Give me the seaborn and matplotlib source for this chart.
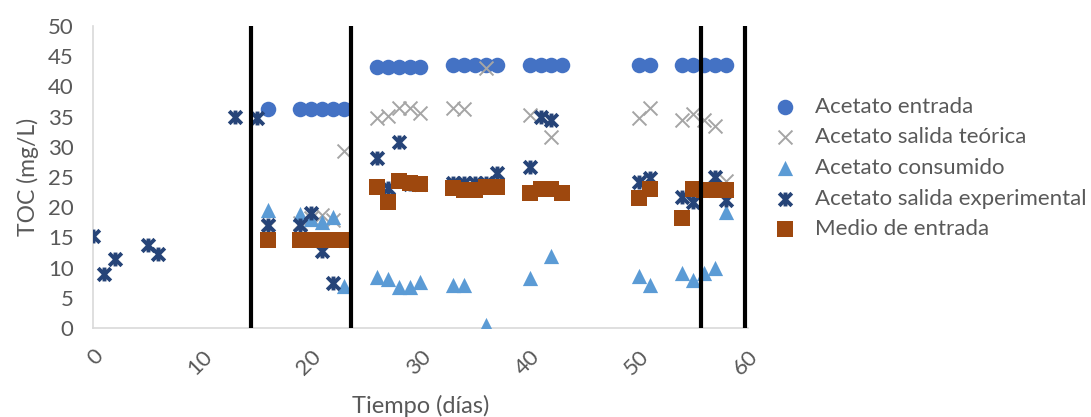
import numpy as np
import pandas as pd
import matplotlib
matplotlib.use("Agg")
import matplotlib.pyplot as plt
from matplotlib.path import Path
import seaborn as sns

# Datos
dias_entrada = [16, 19, 20, 21, 22, 23, 26, 27, 28, 29, 30, 33, 34, 35, 36, 37,
                40, 41, 42, 43, 50, 51, 54, 55, 56, 57, 58]
acetato_entrada = [36.2, 36.2, 36.2, 36.2, 36.2, 36.2, 43.2, 43.2, 43.2, 43.2, 43.2,
                   43.5, 43.5, 43.5, 43.5, 43.5, 43.5, 43.5, 43.5, 43.5, 43.5, 43.5,
                   43.5, 43.5, 43.5, 43.5, 43.5]

dias_teorica = [16, 19, 20, 21, 22, 23, 26, 27, 28, 29, 30, 33, 34, 36, 40, 42,
                50, 51, 54, 55, 56, 57, 58]
salida_teorica = [16.7, 17.4, 18.2, 18.7, 17.9, 29.3, 34.7, 35.1, 36.4, 36.4, 35.6,
                  36.4, 36.3, 43.0, 35.2, 31.6, 34.8, 36.4, 34.4, 35.5, 34.4, 33.5, 24.3]
consumido = [19.5, 18.8, 18.0, 17.5, 18.3, 6.9, 8.5, 8.1, 6.8, 6.8, 7.6,
             7.1, 7.2, 0.5, 8.3, 11.9, 8.6, 7.1, 9.1, 8.0, 9.1, 9.9, 19.2]

dias_exp = [0, 1, 2, 5, 6, 13, 15, 16, 19, 20, 21, 22, 23, 26, 27, 28, 29, 30,
            33, 34, 35, 36, 37, 40, 41, 42, 50, 51, 54, 55, 56, 57, 58]
salida_exp = [15.2, 9.0, 11.5, 13.7, 12.3, 34.9, 34.7, 17.0, 17.0, 19.0, 12.7, 7.5,
              14.5, 28.1, 23.2, 30.8, 23.8, 23.8, 24.0, 24.0, 24.0, 24.0, 25.6,
              26.7, 35.0, 34.5, 24.2, 24.8, 21.7, 20.9, 22.8, 25.0, 21.2]

medio_entrada = [14.6, 14.6, 14.6, 14.6, 14.6, 14.6, 23.4, 20.9, 24.3, 24.0, 23.9,
                 23.2, 22.9, 22.9, 23.3, 23.3, 22.3, 23.0, 23.0, 22.4, 21.6, 23.0,
                 18.2, 23.0, 22.8, 22.8, 22.8]

cambios = [14.5, 23.6, 55.7, 59.7]

GRIS = "#595959"

# marcador "estrella" de Excel: X con barra vertical
estrella = Path([(-1, -1), (1, 1), (-1, 1), (1, -1), (0, -1.1), (0, 1.1)],
                [Path.MOVETO, Path.LINETO, Path.MOVETO, Path.LINETO, Path.MOVETO, Path.LINETO])


def main():
    sns.set_style("white")
    plt.rcParams["font.family"] = ["Lato", "DejaVu Sans"]

    fig = plt.figure(figsize=(10.91, 4.17), dpi=100)
    ax = fig.add_axes([0.0852, 0.2134, 0.6004, 0.7242])

    sns.scatterplot(x=dias_entrada, y=acetato_entrada, marker="o", s=125,
                    color="#4472C4", edgecolor="#4472C4", linewidth=0,
                    label="Acetato entrada", ax=ax, zorder=3)
    sns.scatterplot(x=dias_teorica, y=salida_teorica, marker="x", s=100,
                    color="#A5A5A5", linewidth=1.4,
                    label="Acetato salida teórica", ax=ax, zorder=3)
    sns.scatterplot(x=dias_teorica, y=consumido, marker="^", s=120,
                    color="#5B9BD5", edgecolor="#5B9BD5", linewidth=0,
                    label="Acetato consumido", ax=ax, zorder=3)
    sns.scatterplot(x=dias_exp, y=salida_exp, marker=estrella, s=100,
                    color="#264478", edgecolor="#264478", linewidth=2.8,
                    label="Acetato salida experimental", ax=ax, zorder=3)
    sns.scatterplot(x=dias_entrada, y=medio_entrada, marker="s", s=125,
                    color="#9E480E", edgecolor="#9E480E", linewidth=0,
                    label="Medio de entrada", ax=ax, zorder=3)

    ax.vlines(cambios, 0, 50, color="black", linewidth=3, zorder=4)

    ax.set_xlim(0, 60)
    ax.set_ylim(0, 50)
    ax.set_xticks(range(0, 61, 10))
    ax.set_yticks(range(0, 51, 5))
    ax.tick_params(axis="y", length=0, pad=14, labelsize=16, labelcolor=GRIS)
    ax.tick_params(axis="x", length=0, pad=13, labelsize=16, labelcolor=GRIS)
    for lab in ax.get_xticklabels():
        lab.set_rotation(45)
        lab.set_ha("right")
        lab.set_va("top")
        lab.set_rotation_mode("anchor")

    for side in ["top", "right"]:
        ax.spines[side].set_visible(False)
    for side in ["left", "bottom"]:
        ax.spines[side].set_color("#D9D9D9")
        ax.spines[side].set_linewidth(1.2)

    ax.set_xlabel("Tiempo (días)", fontsize=17, color=GRIS, labelpad=12)
    ax.set_ylabel("TOC (mg/L)", fontsize=16.5, color=GRIS, labelpad=6)

    leg = ax.legend(loc="center left", bbox_to_anchor=(1.026, 0.53), frameon=False,
                    fontsize=16, labelspacing=0.48, handlelength=1.0,
                    handletextpad=0.85, borderaxespad=0)
    for t in leg.get_texts():
        t.set_color(GRIS)

    fig.savefig("out.png", dpi=100)


if __name__ == "__main__":
    main()
